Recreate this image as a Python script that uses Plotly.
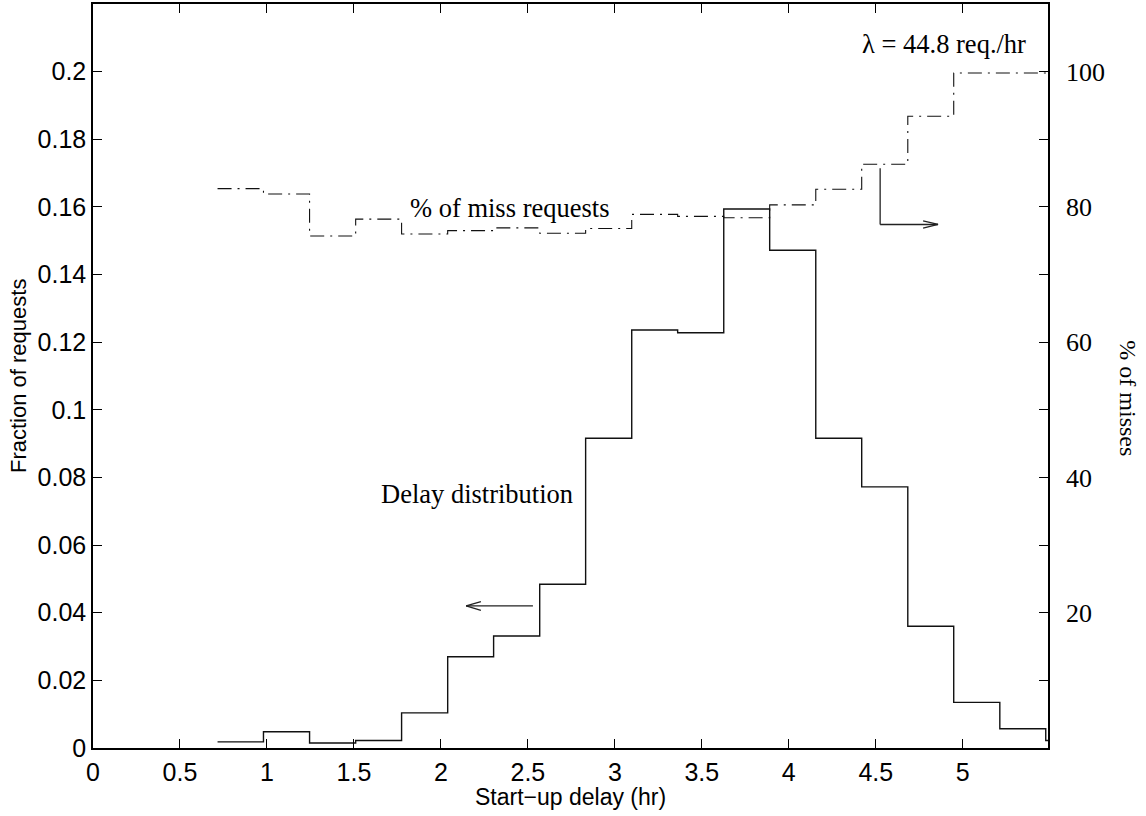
import plotly.graph_objects as go

# ---- data ----
bin_edges = [0.716, 0.98, 1.245, 1.51, 1.774, 2.039, 2.303, 2.568, 2.832, 3.097,
             3.361, 3.626, 3.89, 4.155, 4.419, 4.684, 4.948, 5.213, 5.477, 5.742]
delay_fraction = [0.0018, 0.0048, 0.0015, 0.0022, 0.0104, 0.0270, 0.0331, 0.0484,
                  0.0916, 0.1236, 0.1228, 0.1594, 0.1472, 0.0916, 0.0772, 0.0360,
                  0.0135, 0.0057, 0.0022]
miss_percent = [82.7, 81.9, 75.7, 78.2, 76.0, 76.5, 76.9, 76.1, 76.8, 78.9,
                78.6, 78.4, 80.3, 82.6, 86.3, 93.4, 99.8, 99.8, 99.8]

x_ticks = [0, 0.5, 1, 1.5, 2, 2.5, 3, 3.5, 4, 4.5, 5]
x_tick_labels = ["0", "0.5", "1", "1.5", "2", "2.5", "3", "3.5", "4", "4.5", "5"]
y_ticks = [0, 0.02, 0.04, 0.06, 0.08, 0.1, 0.12, 0.14, 0.16, 0.18, 0.2]
y_tick_labels = ["0", "0.02", "0.04", "0.06", "0.08", "0.1", "0.12", "0.14", "0.16", "0.18", "0.2"]
y2_ticks = [10, 20, 30, 40, 50, 60, 70, 80, 90, 100]
y2_tick_labels = ["", "20", "", "40", "", "60", "", "80", "", "100"]

# step series: last edge closes the final bin
xs = bin_edges
ys_delay = delay_fraction + [delay_fraction[-1]]
ys_miss = miss_percent + [miss_percent[-1]]

SANS = "Liberation Sans, Arial, Helvetica, sans-serif"
SERIF = "Liberation Serif, Times New Roman, Times, serif"

fig = go.Figure()
fig.add_trace(go.Scatter(x=xs, y=ys_delay, mode="lines", line_shape="hv",
                         line=dict(color="#111111", width=1.4), showlegend=False,
                         hoverinfo="skip"))
fig.add_trace(go.Scatter(x=xs, y=ys_miss, mode="lines", line_shape="hv", yaxis="y2",
                         line=dict(color="#111111", width=1.1, dash="14px,6px,2px,6px"),
                         showlegend=False, hoverinfo="skip"))

# arrows (annotation marks)
line_style = dict(color="#222222", width=1.3)
shapes = []
# left-pointing arrow for delay distribution (left axis)
a1_y = 0.042
a1_x0, a1_x1 = 2.529, 2.145
shapes.append(dict(type="line", xref="x", yref="y", x0=a1_x0, y0=a1_y, x1=a1_x1, y1=a1_y, line=line_style))
shapes.append(dict(type="line", xref="x", yref="y", x0=a1_x1, y0=a1_y, x1=a1_x1 + 0.085, y1=a1_y + 0.0013, line=line_style))
shapes.append(dict(type="line", xref="x", yref="y", x0=a1_x1, y0=a1_y, x1=a1_x1 + 0.085, y1=a1_y - 0.0013, line=line_style))
# right-pointing elbow arrow for miss percentage (right axis)
a2_x, a2_ytop, a2_ybot, a2_xtip = 4.525, 85.7, 77.4, 4.858
shapes.append(dict(type="line", xref="x", yref="y2", x0=a2_x, y0=a2_ytop, x1=a2_x, y1=a2_ybot, line=line_style))
shapes.append(dict(type="line", xref="x", yref="y2", x0=a2_x, y0=a2_ybot, x1=a2_xtip, y1=a2_ybot, line=line_style))
shapes.append(dict(type="line", xref="x", yref="y2", x0=a2_xtip, y0=a2_ybot, x1=a2_xtip - 0.086, y1=a2_ybot + 0.55, line=line_style))
shapes.append(dict(type="line", xref="x", yref="y2", x0=a2_xtip, y0=a2_ybot, x1=a2_xtip - 0.086, y1=a2_ybot - 0.55, line=line_style))

annotations = [
    dict(text="Delay distribution", x=2.206, y=0.0751, xref="x", yref="y", showarrow=False,
         font=dict(family=SERIF, size=26.5, color="black"), xanchor="center", yanchor="middle"),
    dict(text="% of miss requests", x=2.393, y=79.9, xref="x", yref="y2", showarrow=False,
         font=dict(family=SERIF, size=26.5, color="black"), xanchor="center", yanchor="middle"),
    dict(text="λ = 44.8 req./hr", x=4.893, y=104.1, xref="x", yref="y2", showarrow=False,
         font=dict(family=SERIF, size=26.5, color="black"), xanchor="center", yanchor="middle"),
    dict(text="Fraction of requests", x=0, y=0.5, xref="paper", yref="paper", xshift=-75,
         showarrow=False, textangle=-90, font=dict(family=SANS, size=22, color="black"),
         xanchor="center", yanchor="middle"),
    dict(text="Start−up delay (hr)", x=0.5, y=0, xref="paper", yref="paper", yshift=-49,
         showarrow=False, font=dict(family=SANS, size=23, color="black"),
         xanchor="center", yanchor="middle"),
    dict(text="% of misses", x=1, y=0.47, xref="paper", yref="paper", xshift=80,
         showarrow=False, textangle=90, font=dict(family=SERIF, size=24, color="black"),
         xanchor="center", yanchor="middle"),
]

axis_common = dict(showline=True, linecolor="black", linewidth=1.5, ticks="inside",
                   ticklen=9, tickwidth=1.2, tickcolor="black", showgrid=False,
                   zeroline=False)

fig.update_layout(
    width=1146, height=816,
    margin=dict(l=93, r=98, t=2, b=68),
    paper_bgcolor="white", plot_bgcolor="white",
    xaxis=dict(range=[0, 5.49], tickvals=x_ticks, ticktext=x_tick_labels, mirror="ticks",
               tickfont=dict(family=SANS, size=25, color="black"), ticklabelstandoff=1,
               **axis_common),
    yaxis=dict(range=[0, 0.22], tickvals=y_ticks, ticktext=y_tick_labels,
               tickfont=dict(family=SANS, size=25, color="black"), ticklabelstandoff=0,
               **axis_common),
    yaxis2=dict(range=[0, 110], tickvals=y2_ticks, ticktext=y2_tick_labels, overlaying="y",
                side="right", tickfont=dict(family=SERIF, size=26, color="black"),
                ticklabelstandoff=11, **axis_common),
    shapes=shapes,
    annotations=annotations,
)

fig.write_html("out.html")
